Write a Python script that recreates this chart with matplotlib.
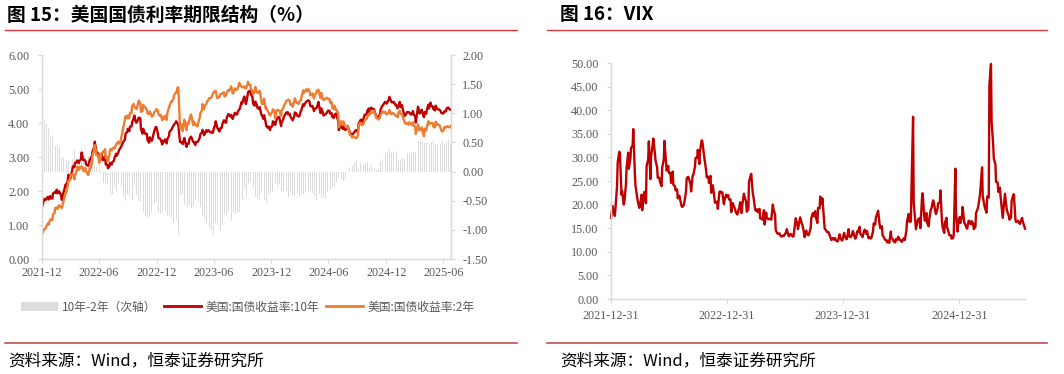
import matplotlib
matplotlib.use('Agg')
import matplotlib.pyplot as plt
from matplotlib.lines import Line2D
from matplotlib.patches import Patch
import numpy as np
import pandas as pd

plt.rcParams['font.family'] = ['Noto Sans CJK SC', 'DejaVu Sans']

# ---------------- data (weekly, Fridays from 2021-12-31) ----------------
# US 10Y Treasury yield (%), Friday readings
y10_2021 = [1.52]
y10_2022 = [1.76, 1.78, 1.75, 1.78,
            1.93, 1.94, 1.93, 1.97,
            1.74, 2.00, 2.14, 2.48,
            2.38, 2.72, 2.83, 2.90, 2.89,
            3.13, 2.93, 2.79, 2.74,
            2.94, 3.16, 3.45, 3.13,
            2.88, 3.08, 2.93, 2.78, 2.67,
            2.83, 2.85, 2.98, 3.04,
            3.20, 3.31, 3.45, 3.69, 3.83,
            3.89, 4.02, 4.22, 4.01,
            4.16, 3.82, 3.83, 3.68,
            3.49, 3.58, 3.48, 3.75, 3.88]
y10_2023 = [3.56, 3.51, 3.48, 3.52,
            3.53, 3.74, 3.82, 3.95,
            4.05, 3.95, 3.43, 3.38, 3.48,
            3.39, 3.52, 3.57, 3.44,
            3.44, 3.46, 3.67, 3.80,
            3.69, 3.74, 3.76, 3.74, 3.81,
            4.05, 3.83, 3.84, 3.96,
            4.03, 4.15, 4.25, 4.24,
            4.18, 4.26, 4.33, 4.43, 4.57,
            4.78, 4.63, 4.93, 4.84,
            4.57, 4.63, 4.44, 4.47,
            4.22, 4.23, 3.91, 3.90, 3.88]
y10_2024 = [4.05, 3.94, 4.15, 4.14,
            4.02, 4.18, 4.30, 4.25,
            4.18, 4.08, 4.31, 4.22, 4.20,
            4.39, 4.50, 4.62, 4.67,
            4.50, 4.50, 4.42, 4.46, 4.50,
            4.43, 4.22, 4.26, 4.36,
            4.28, 4.18, 4.24, 4.20,
            3.79, 3.94, 3.89, 3.80, 3.91,
            3.72, 3.66, 3.73, 3.75,
            3.98, 4.10, 4.08, 4.24,
            4.37, 4.31, 4.43, 4.41, 4.18,
            4.15, 4.40, 4.52, 4.62]
y10_2025 = [4.60, 4.77, 4.61, 4.62, 4.54,
            4.49, 4.47, 4.42, 4.21,
            4.32, 4.31, 4.25, 4.25,
            4.01, 4.48, 4.33, 4.29,
            4.32, 4.38, 4.43, 4.51, 4.41,
            4.51, 4.41, 4.38, 4.28,
            4.35, 4.43, 4.42, 4.39]

# US 10Y, mid-week (Wednesday) readings of the same weeks (from 2022)
y10w_2022 = [1.70, 1.74, 1.83, 1.85,
             1.78, 1.96, 2.04, 1.99,
             1.86, 1.95, 2.19, 2.32,
             2.35, 2.60, 2.70, 2.84, 2.82,
             2.93, 2.91, 2.89, 2.75,
             2.91, 3.03, 3.29, 3.16,
             3.09, 2.93, 2.91, 3.03, 2.78,
             2.73, 2.78, 2.89, 3.10,
             3.13, 3.27, 3.41, 3.51, 3.73,
             3.76, 3.90, 4.14, 4.02,
             4.10, 4.14, 3.69, 3.71,
             3.68, 3.42, 3.48, 3.68, 3.88]
y10w_2023 = [3.69, 3.54, 3.37, 3.45,
             3.40, 3.61, 3.80, 3.92,
             4.00, 3.98, 3.46, 3.44, 3.56,
             3.30, 3.39, 3.60, 3.45,
             3.35, 3.44, 3.56, 3.72,
             3.64, 3.79, 3.79, 3.72, 3.71,
             3.94, 3.86, 3.75, 3.86,
             4.08, 4.01, 4.26, 4.19,
             4.12, 4.30, 4.25, 4.40, 4.61,
             4.73, 4.56, 4.90, 4.95,
             4.77, 4.51, 4.53, 4.41,
             4.26, 4.12, 4.02, 3.86, 3.79]
y10w_2024 = [3.91, 4.02, 4.10, 4.18,
             3.91, 4.11, 4.27, 4.32,
             4.27, 4.11, 4.19, 4.28, 4.19,
             4.35, 4.55, 4.58, 4.65,
             4.63, 4.49, 4.35, 4.43, 4.62,
             4.29, 4.31, 4.25, 4.32,
             4.36, 4.29, 4.15, 4.28,
             4.06, 3.96, 3.83, 3.80, 3.84,
             3.77, 3.65, 3.70, 3.79,
             3.78, 4.07, 4.03, 4.24,
             4.27, 4.43, 4.45, 4.41, 4.25,
             4.18, 4.27, 4.50, 4.59]
y10w_2025 = [4.57, 4.69, 4.66, 4.60, 4.53,
             4.43, 4.62, 4.53, 4.25,
             4.28, 4.32, 4.25, 4.35,
             4.20, 4.34, 4.28, 4.39,
             4.17, 4.27, 4.54, 4.60, 4.48,
             4.37, 4.41, 4.39, 4.29,
             4.29, 4.34, 4.46, 4.39]

# US 2Y Treasury yield (%), Friday readings
y2_2021 = [0.73]
y2_2022 = [0.87, 0.97, 1.01, 1.17,
           1.31, 1.50, 1.47, 1.57,
           1.50, 1.75, 1.95, 2.30,
           2.44, 2.51, 2.46, 2.72, 2.70,
           2.72, 2.58, 2.58, 2.47,
           2.66, 3.06, 3.35, 3.06,
           2.83, 3.10, 3.13, 2.97, 2.88,
           3.23, 3.24, 3.25, 3.39,
           3.39, 3.56, 3.87, 4.20, 4.22,
           4.30, 4.50, 4.48, 4.41,
           4.66, 4.33, 4.53, 4.45,
           4.28, 4.34, 4.18, 4.31, 4.41]
y2_2023 = [4.25, 4.24, 4.18, 4.21,
           4.29, 4.50, 4.62, 4.81,
           4.88, 5.03, 3.84, 3.76, 4.06,
           3.99, 4.09, 4.19, 4.04,
           3.92, 3.99, 4.28, 4.56,
           4.51, 4.62, 4.73, 4.75, 4.90,
           4.94, 4.75, 4.84, 4.88,
           4.78, 4.90, 4.94, 5.08,
           4.87, 4.98, 5.02, 5.12, 5.05,
           5.08, 5.05, 5.12, 5.00,
           4.84, 5.06, 4.89, 4.95,
           4.56, 4.72, 4.45, 4.31, 4.25]
y2_2024 = [4.40, 4.14, 4.39, 4.35,
           4.37, 4.49, 4.64, 4.69,
           4.53, 4.48, 4.73, 4.59, 4.62,
           4.75, 4.88, 4.99, 5.00,
           4.81, 4.87, 4.83, 4.95, 4.89,
           4.89, 4.68, 4.73, 4.71,
           4.60, 4.45, 4.51, 4.38,
           3.88, 4.05, 4.05, 3.92, 3.92,
           3.65, 3.57, 3.59, 3.56,
           3.93, 3.96, 3.95, 4.10,
           4.20, 4.25, 4.31, 4.37, 4.15,
           4.10, 4.24, 4.31, 4.33]
y2_2025 = [4.28, 4.38, 4.27, 4.27, 4.22,
           4.29, 4.27, 4.19, 3.99,
           4.00, 4.02, 3.95, 3.91,
           3.68, 3.96, 3.80, 3.76,
           3.83, 3.89, 3.96, 4.00, 3.89,
           4.04, 3.96, 3.90, 3.75,
           3.88, 3.90, 3.88, 3.92]

# US 2Y, mid-week (Wednesday) readings of the same weeks (from 2022)
y2w_2022 = [0.83, 0.91, 1.05, 1.16,
            1.14, 1.35, 1.51, 1.58,
            1.51, 1.69, 1.95, 2.16,
            2.31, 2.50, 2.34, 2.58, 2.62,
            2.67, 2.65, 2.68, 2.50,
            2.65, 2.80, 3.20, 3.05,
            3.06, 2.97, 3.16, 3.23, 2.99,
            3.07, 3.20, 3.28, 3.38,
            3.45, 3.45, 3.79, 4.11, 4.14,
            4.14, 4.29, 4.56, 4.43,
            4.57, 4.58, 4.36, 4.48,
            4.38, 4.26, 4.24, 4.25, 4.36]
y2w_2023 = [4.36, 4.21, 4.08, 4.13,
            4.09, 4.45, 4.63, 4.70,
            4.88, 5.05, 3.96, 3.95, 4.10,
            3.79, 3.97, 4.25, 3.94,
            3.97, 3.90, 4.15, 4.37,
            4.40, 4.55, 4.69, 4.73, 4.86,
            4.94, 4.73, 4.76, 4.86,
            4.90, 4.81, 4.97, 5.03,
            4.88, 5.02, 4.98, 5.18, 5.08,
            5.05, 5.01, 5.21, 5.12,
            4.95, 4.93, 4.90, 4.89,
            4.66, 4.57, 4.42, 4.34, 4.22]
y2w_2024 = [4.33, 4.36, 4.36, 4.37,
            4.21, 4.44, 4.60, 4.67,
            4.64, 4.56, 4.63, 4.60, 4.56,
            4.68, 4.96, 4.94, 4.93,
            4.93, 4.84, 4.72, 4.87, 4.98,
            4.74, 4.69, 4.70, 4.74,
            4.71, 4.62, 4.41, 4.38,
            4.29, 3.99, 3.94, 3.93, 3.86,
            3.75, 3.63, 3.61, 3.55,
            3.63, 4.01, 3.94, 4.07,
            4.13, 4.26, 4.35, 4.31, 4.22,
            4.13, 4.16, 4.35, 4.30]
y2w_2025 = [4.25, 4.29, 4.26, 4.30, 4.22,
            4.17, 4.36, 4.27, 4.07,
            3.98, 3.95, 3.98, 4.02,
            3.90, 3.85, 3.78, 3.87,
            3.61, 3.78, 4.05, 4.00, 3.99,
            3.87, 3.95, 3.94, 3.77,
            3.79, 3.87, 3.89, 3.87]

# VIX, Friday readings
vix_2021 = [17.2]
vix_2022 = [18.8, 19.2, 28.9, 31.0,
            22.9, 20.5, 27.8, 27.6,
            32.0, 36.0, 24.0, 20.8,
            19.6, 18.8, 22.7, 28.2, 33.4,
            30.2, 34.0, 29.4, 25.7,
            24.8, 27.8, 33.5, 27.2,
            26.7, 24.6, 24.2, 23.0, 21.3,
            21.2, 19.5, 20.6, 25.6,
            25.5, 22.8, 26.3, 29.9, 31.6,
            31.4, 33.5, 29.7, 25.8,
            24.6, 22.5, 23.1, 20.5,
            19.1, 22.8, 22.6, 20.9, 21.7]
vix_2023 = [21.1, 18.4, 19.9, 18.5,
            18.3, 20.5, 20.0, 21.7,
            18.5, 24.8, 26.5, 21.7, 18.7,
            18.4, 17.1, 16.8, 15.8,
            17.2, 17.0, 16.8, 19.0,
            14.6, 13.8, 13.5, 13.4, 13.6,
            14.8, 13.3, 13.6, 13.3,
            17.1, 14.8, 17.3, 15.7,
            13.1, 13.8, 13.8, 17.2, 17.5,
            17.5, 19.3, 21.7, 21.3,
            14.9, 14.2, 13.8, 12.5,
            12.6, 12.4, 12.3, 13.0, 12.5]
vix_2024 = [13.4, 12.7, 13.3, 13.3,
            13.9, 12.9, 14.2, 13.8,
            13.1, 14.7, 14.4, 13.1, 13.0,
            16.0, 17.3, 18.7, 15.0,
            13.5, 12.6, 12.0, 11.9, 12.9,
            12.2, 12.7, 13.2, 12.4,
            12.5, 12.5, 16.5, 16.4,
            23.4, 20.4, 14.8, 16.9, 15.0,
            22.4, 16.6, 16.2, 17.0,
            19.2, 20.5, 18.0, 20.3,
            23.0, 15.2, 16.1, 15.2, 13.5,
            12.8, 13.8, 18.4, 16.0]
vix_2025 = [16.1, 19.5, 16.0, 14.9, 16.4,
            16.5, 14.8, 18.2, 19.6,
            23.4, 21.8, 19.3, 21.7,
            45.3, 37.6, 29.7, 24.8,
            22.7, 21.9, 17.2, 22.3, 18.6,
            16.8, 20.8, 22.2, 16.3,
            16.4, 16.4, 16.4, 14.9]

# VIX, mid-week (Wednesday) readings of the same weeks (from 2022)
vixw_2022 = [19.7, 17.6, 23.9, 31.2,
             22.1, 20.0, 24.3, 31.0,
             29.7, 32.5, 26.7, 21.7,
             19.3, 22.1, 21.8, 20.3, 29.6,
             25.4, 32.6, 30.9, 27.9,
             25.7, 23.9, 29.6, 28.9,
             28.2, 26.7, 27.0, 23.9, 23.2,
             21.9, 19.7, 19.9, 22.8,
             25.9, 24.3, 26.2, 28.0, 29.9,
             28.6, 33.6, 30.8, 27.3,
             25.9, 26.1, 24.1, 20.4,
             20.6, 22.7, 22.5, 20.1, 22.1]
vixw_2023 = [22.0, 21.1, 20.3, 19.1,
             17.9, 19.6, 18.2, 22.3,
             20.6, 19.1, 26.1, 22.3, 19.1,
             19.0, 19.1, 17.0, 18.8,
             18.3, 16.9, 16.9, 20.0,
             17.9, 13.9, 13.9, 13.2, 13.4,
             14.2, 13.5, 13.8, 13.2,
             16.0, 15.9, 16.5, 16.0,
             14.0, 14.5, 13.5, 15.1, 18.2,
             18.6, 16.1, 19.2, 20.2,
             16.9, 14.5, 14.2, 12.9,
             12.9, 12.9, 12.2, 13.7, 12.4]
vixw_2024 = [14.0, 12.7, 14.8, 13.1,
             14.4, 12.8, 14.4, 15.3,
             13.4, 14.5, 13.8, 12.9, 12.8,
             14.3, 15.8, 18.2, 15.7,
             15.4, 13.0, 12.5, 12.3, 14.3,
             12.6, 12.0, 12.5, 12.6,
             12.1, 12.9, 14.5, 18.0,
             16.4, 38.6, 16.2, 16.3, 17.1,
             21.3, 17.7, 18.2, 15.4,
             19.0, 20.9, 18.6, 19.2,
             20.4, 16.3, 14.0, 17.2, 14.1,
             13.5, 12.9, 27.6, 14.3]
vixw_2025 = [17.4, 17.7, 16.1, 15.1, 16.6,
             15.8, 16.0, 15.3, 19.1,
             21.9, 27.9, 19.9, 18.3,
             21.5, 49.8, 32.6, 28.5,
             24.7, 23.6, 18.6, 20.9, 19.3,
             17.6, 17.3, 22.0, 16.8,
             16.6, 15.9, 17.2, 15.4]

left_xticks = ['2021-12-31', '2022-06-30', '2022-12-31', '2023-06-30',
               '2023-12-31', '2024-06-30', '2024-12-31', '2025-06-30']
right_xticks = ['2021-12-31', '2022-12-31', '2023-12-31', '2024-12-31']


def merge(fri_vals, wed_vals):
    """Combine Friday readings with the Wednesday readings of the same weeks."""
    fri = np.array(fri_vals, dtype=float)
    wed = np.array(wed_vals, dtype=float)
    fd = pd.date_range('2021-12-31', periods=len(fri), freq='W-FRI')
    wd = fd[1:len(wed) + 1] - pd.Timedelta(days=2)
    d = np.concatenate([fd.values, wd.values])
    v = np.concatenate([fri, wed])
    o = np.argsort(d, kind='stable')
    return pd.to_datetime(d[o]), v[o], fd, fri


d10, v10, dates, y10_fri = merge(y10_2021 + y10_2022 + y10_2023 + y10_2024 + y10_2025,
                                 y10w_2022 + y10w_2023 + y10w_2024 + y10w_2025)
d2, v2, _, y2_fri = merge(y2_2021 + y2_2022 + y2_2023 + y2_2024 + y2_2025,
                          y2w_2022 + y2w_2023 + y2w_2024 + y2w_2025)
dv, vv, vfri_dates, _ = merge(vix_2021 + vix_2022 + vix_2023 + vix_2024 + vix_2025,
                              vixw_2022 + vixw_2023 + vixw_2024 + vixw_2025)
spread = y10_fri - y2_fri

# ---------------- styling ----------------
W, H = 1064, 374
RED = '#C00000'
ORANGE = '#ED7D31'
GRAYBAR = '#DCDCDC'
AXC = '#D9D9D9'
TXT = '#595959'
SERIF = 'Liberation Serif'
TS = 8.7


def fx(p):
    return p / W


def fy(p):
    return 1 - p / H


fig = plt.figure(figsize=(W / 100, H / 100), dpi=100)
fig.patch.set_facecolor('white')

# ---------- left chart ----------
ax = fig.add_axes([fx(42), fy(259), fx(451) - fx(42), fy(55) - fy(259)])
ax2 = ax.twinx()
ax2.bar(dates, spread, width=3.2, color=GRAYBAR, linewidth=0, zorder=1)
ax.set_zorder(ax2.get_zorder() + 1)
ax.patch.set_visible(False)
ax.plot(d10, v10, color=RED, lw=1.7, solid_joinstyle='round')
ax.plot(d2, v2, color=ORANGE, lw=1.7, solid_joinstyle='round')

ax.set_xlim(dates[0], dates[-1])
ax.set_ylim(0, 6)
ax2.set_ylim(-1.5, 2.0)
lt = pd.to_datetime(left_xticks)
ax.set_xticks(lt, labels=[d.strftime('%Y-%m') for d in lt],
              fontfamily=SERIF, fontsize=TS, color=TXT)
yv = np.arange(0, 6.01, 1.0)
ax.set_yticks(yv, labels=[f'{v:.2f}' for v in yv], fontfamily=SERIF,
              fontsize=TS, color=TXT)
y2v = np.arange(-1.5, 2.01, 0.5)
ax2.set_yticks(y2v, labels=[f'{v:.2f}' for v in y2v], fontfamily=SERIF,
               fontsize=TS, color=TXT)
for a in (ax, ax2):
    for s in a.spines.values():
        s.set_color(AXC)
        s.set_linewidth(1.0)
    a.spines['top'].set_visible(False)
ax.spines['right'].set_visible(False)
ax2.spines['left'].set_visible(False)
ax2.spines['bottom'].set_visible(False)
ax.tick_params(axis='x', length=3, width=0.8, color=AXC, pad=3)
ax.tick_params(axis='y', length=3, width=0.8, color=AXC, pad=6)
ax2.tick_params(axis='y', length=3, width=0.8, color=AXC, pad=5)

# legend for left chart
handles = [Patch(facecolor=GRAYBAR, edgecolor='none'),
           Line2D([], [], color=RED, lw=2),
           Line2D([], [], color=ORANGE, lw=2)]
labels = ['10年-2年（次轴）', '美国:国债收益率:10年', '美国:国债收益率:2年']
fig.legend(handles, labels, loc='center left',
           bbox_to_anchor=(fx(21), fy(307)), ncol=3, frameon=False,
           fontsize=8.5, labelcolor=TXT, handlelength=3.1, handletextpad=0.4,
           columnspacing=0.6, borderpad=0, borderaxespad=0)

# ---------- right chart ----------
bx = fig.add_axes([fx(611), fy(299), fx(1025) - fx(611), fy(63) - fy(299)])
bx.plot(dv, vv, color=RED, lw=1.7, clip_on=False, solid_joinstyle='round')
bx.set_xlim(vfri_dates[0], vfri_dates[-1])
bx.set_ylim(0, 50)
rt = pd.to_datetime(right_xticks)
bx.set_xticks(rt, labels=[d.strftime('%Y-%m-%d') for d in rt],
              fontfamily=SERIF, fontsize=TS, color=TXT)
bv = np.arange(0, 50.01, 5)
bx.set_yticks(bv, labels=[f'{v:.2f}' for v in bv], fontfamily=SERIF,
              fontsize=TS, color=TXT)
for s in bx.spines.values():
    s.set_color(AXC)
    s.set_linewidth(1.0)
bx.spines['top'].set_visible(False)
bx.spines['right'].set_visible(False)
bx.tick_params(axis='x', length=3, width=0.8, color=AXC, pad=5)
bx.tick_params(axis='y', length=3, width=0.8, color=AXC, pad=6)

# ---------- titles, rules, sources ----------
TFONT = ['Noto Sans CJK SC', 'DejaVu Sans']
fig.text(fx(7), fy(15), '图 15：美国国债利率期限结构（%）', fontsize=13.5,
         fontweight='bold', family=TFONT, va='center', ha='left', color='black')
fig.text(fx(560), fy(15), '图 16：VIX', fontsize=13.5, fontweight='bold',
         family=TFONT, va='center', ha='left', color='black')
for x0, x1 in ((5, 517), (547, 1047)):
    fig.add_artist(Line2D([fx(x0), fx(x1)], [fy(30), fy(30)], color='#E0393E',
                          lw=1.0, transform=fig.transFigure))
    fig.add_artist(Line2D([fx(x0), fx(x1)], [fy(343), fy(343)], color='#C0504D',
                          lw=1.2, transform=fig.transFigure))
fig.text(fx(8), fy(361), '资料来源：Wind，恒泰证券研究所', fontsize=12,
         style='italic', family=TFONT, va='center', ha='left', color='black')
fig.text(fx(560), fy(361), '资料来源：Wind，恒泰证券研究所', fontsize=12,
         style='italic', family=TFONT, va='center', ha='left', color='black')

fig.savefig('out.png', dpi=100, facecolor='white')
